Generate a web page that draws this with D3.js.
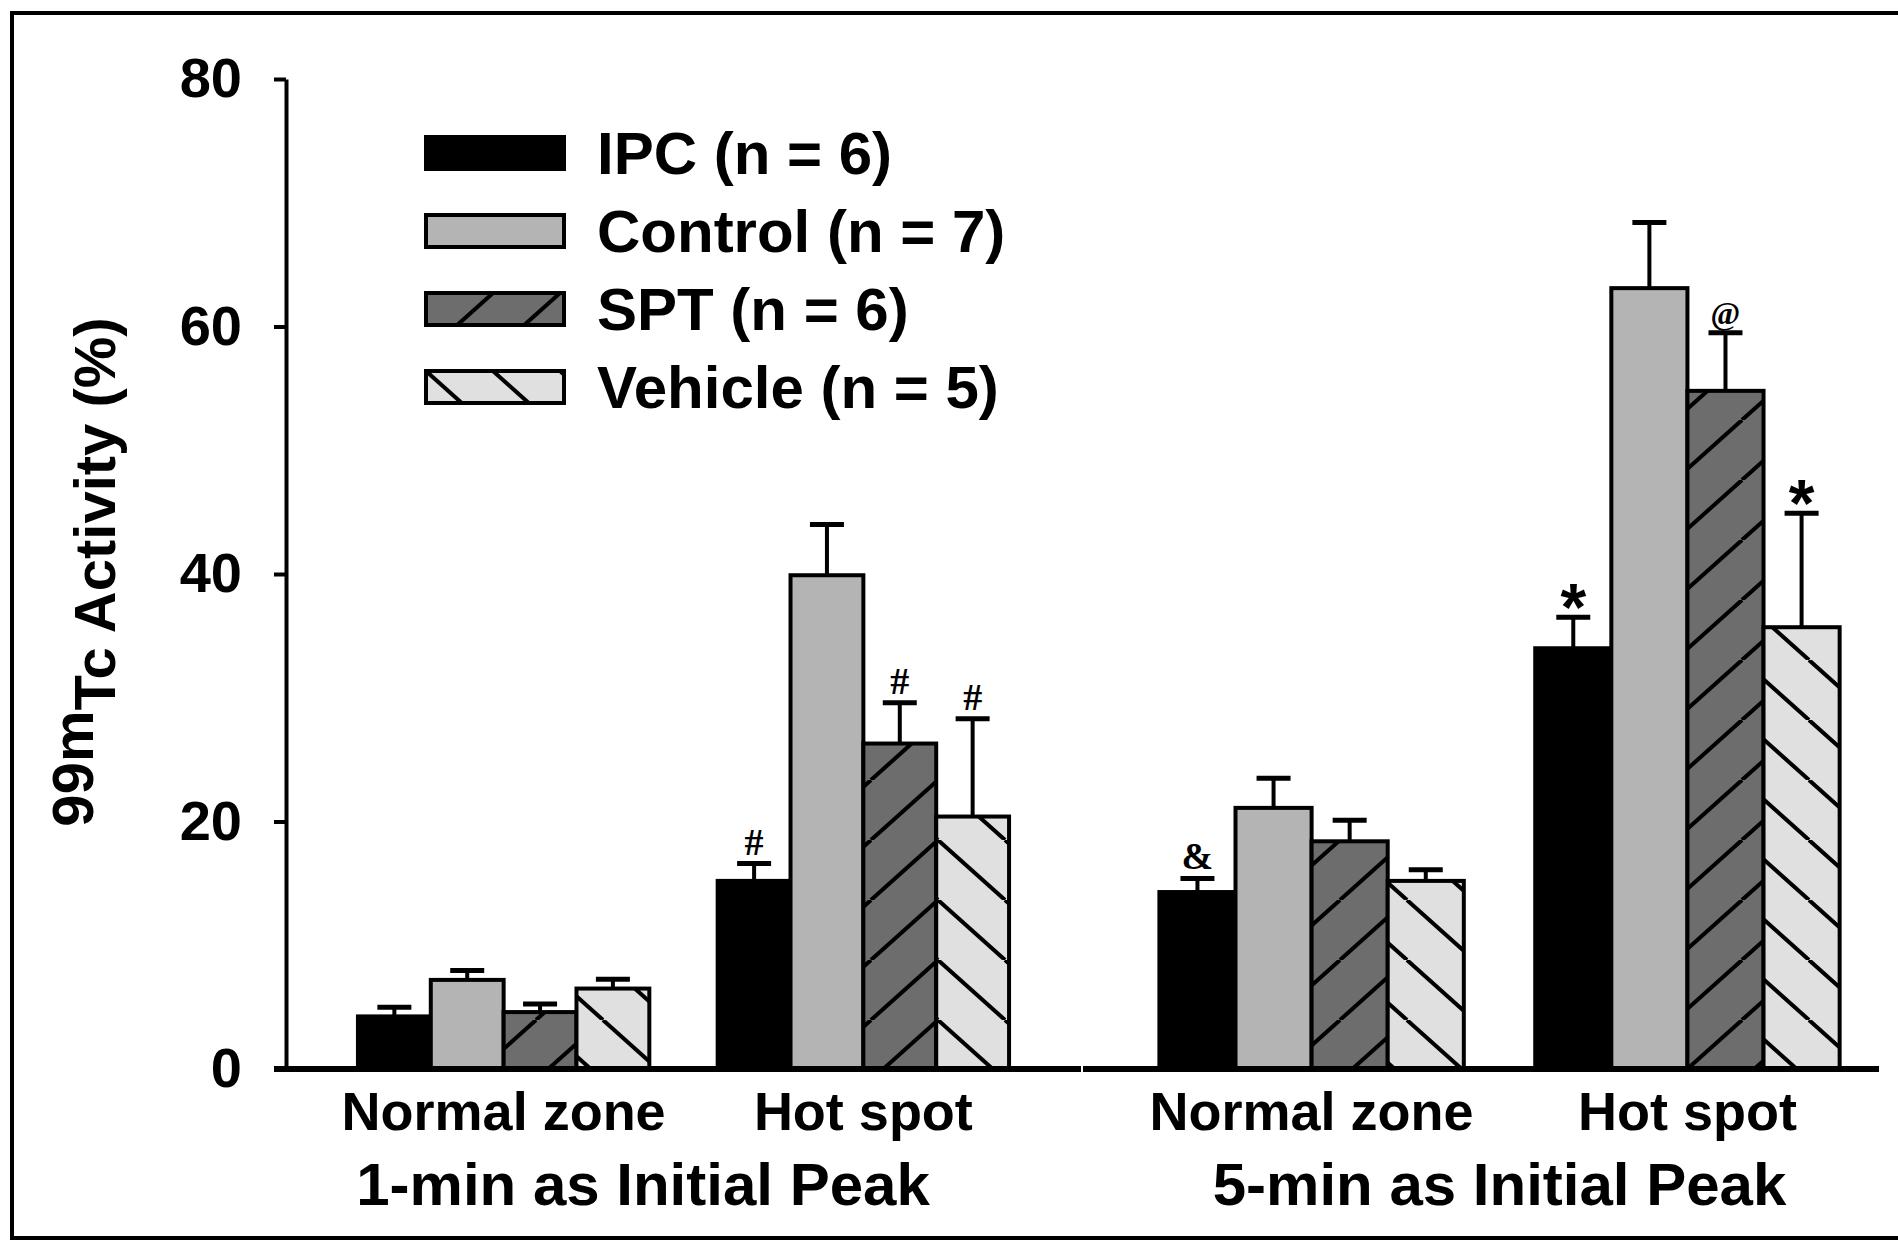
<!DOCTYPE html>
<html>
<head>
<meta charset="utf-8">
<script src="https://cdn.jsdelivr.net/npm/d3@7"></script>
<style>
  body { margin: 0; background: #fff; }
  svg { display: block; font-family: "Liberation Sans", Arial, sans-serif; font-weight: bold; }
</style>
</head>
<body>
<svg id="chart"></svg>
<script>
const WIDTH = 1898;
const HEIGHT = 1240;

// series and groups
const series = ['IPC (n = 6)', 'Control (n = 7)', 'SPT (n = 6)', 'Vehicle (n = 5)'];
const groups = ['1-Normal', '1-Hot', '5-Normal', '5-Hot'];
const groupLabels = ['Normal zone', 'Hot spot', 'Normal zone', 'Hot spot'];
const panelLabels = ['1-min as Initial Peak', '5-min as Initial Peak'];
const yTicks = [0, 20, 40, 60, 80];

// means per group, in series order
const ipc = [4.25, 15.2, 14.3, 34.0];
const control = [7.2, 39.9, 21.1, 63.1];
const spt = [4.6, 26.3, 18.4, 54.8];
const vehicle = [6.5, 20.4, 15.2, 35.7];
// SEM
const ipcErr = [0.75, 1.4, 1.1, 2.5];
const controlErr = [0.75, 4.1, 2.4, 5.3];
const sptErr = [0.65, 3.3, 1.7, 4.7];
const vehicleErr = [0.75, 7.9, 0.9, 9.2];
// significance marks
const ipcMark = ['', '#', '&', '*'];
const controlMark = ['', '', '', ''];
const sptMark = ['', '#', '', '@'];
const vehicleMark = ['', '#', '', '*'];

const fills = ['#000000', '#b4b4b4', 'url(#fwd)', 'url(#back)'];

const means = [ipc, control, spt, vehicle];
const errs = [ipcErr, controlErr, sptErr, vehicleErr];
const marks = [ipcMark, controlMark, sptMark, vehicleMark];

const rows = [];
groups.forEach((g, gi) => {
  series.forEach((s, si) => {
    rows.push({ group: g, gi, series: s, si, value: means[si][gi], err: errs[si][gi], mark: marks[si][gi] });
  });
});

const svg = d3.select('#chart').attr('width', WIDTH).attr('height', HEIGHT);

// hatch patterns
const defs = svg.append('defs');
function hatch(id, bg, forward) {
  const w = 67, h = 60;
  const p = defs.append('pattern').attr('id', id)
    .attr('patternUnits', 'userSpaceOnUse')
    .attr('width', w).attr('height', h);
  p.append('rect').attr('width', w).attr('height', h).attr('fill', bg);
  [-w, 0, w].forEach(off => {
    p.append('line')
      .attr('x1', off).attr('y1', forward ? h : 0)
      .attr('x2', off + w).attr('y2', forward ? 0 : h)
      .attr('stroke', '#000').attr('stroke-width', 4);
  });
}
hatch('fwd', '#6d6d6d', true);
hatch('back', '#e0e0e0', false);

// frame
svg.append('rect')
  .attr('x', 12).attr('y', 13).attr('width', WIDTH).attr('height', 1225)
  .attr('fill', 'none').attr('stroke', '#000').attr('stroke-width', 4);

const yScale = d3.scaleLinear().domain([0, 80]).range([1069, 79]);

// two panels, each with its own band scale
const leftX = d3.scaleBand().domain(groups.slice(0, 2)).range([286, 1081])
  .paddingInner(0.19).paddingOuter(0.2);
const rightX = d3.scaleBand().domain(groups.slice(2)).range([1083, 1879])
  .paddingInner(0.19).paddingOuter(0.154).align(0.66);
const groupX = g => (leftX.domain().includes(g) ? leftX : rightX);
const innerX = g => d3.scaleBand().domain(series).range([0, groupX(g).bandwidth()]);

// y axis
const yAxis = d3.axisLeft(yScale).tickValues(yTicks).tickSize(12).tickSizeOuter(0).tickPadding(32);
const yg = svg.append('g').attr('transform', 'translate(286,0)').call(yAxis);
yg.select('.domain').attr('stroke-width', 4);
yg.selectAll('.tick line').attr('stroke-width', 4);
yg.selectAll('.tick text')
  .attr('font-size', 56).attr('font-family', '"Liberation Sans", Arial, sans-serif')
  .attr('font-weight', 'bold').attr('fill', '#000');

// bars
const bars = svg.append('g');
rows.forEach(d => {
  const x0 = groupX(d.group)(d.group) + innerX(d.group)(d.series);
  const bw = innerX(d.group).bandwidth();
  bars.append('rect')
    .attr('x', x0).attr('y', yScale(d.value))
    .attr('width', bw).attr('height', yScale(0) - yScale(d.value))
    .attr('fill', fills[d.si]).attr('stroke', '#000').attr('stroke-width', 4);
  const cx = x0 + bw / 2;
  const top = yScale(d.value + d.err);
  bars.append('line')
    .attr('x1', cx).attr('x2', cx).attr('y1', yScale(d.value)).attr('y2', top)
    .attr('stroke', '#000').attr('stroke-width', 4);
  bars.append('line')
    .attr('x1', cx - 17).attr('x2', cx + 17).attr('y1', top).attr('y2', top)
    .attr('stroke', '#000').attr('stroke-width', 5);
  if (d.mark) {
    const star = d.mark === '*';
    bars.append('text')
      .attr('x', cx).attr('y', star ? top + 13 : top - 9)
      .attr('text-anchor', 'middle')
      .attr('font-family', star ? '"Liberation Sans", Arial, sans-serif' : '"Liberation Serif", "Times New Roman", serif')
      .attr('font-weight', 'bold')
      .attr('font-size', star ? 66 : (d.mark === '@' ? 32 : 38))
      .text(d.mark);
  }
});

// x axis, two segments with a small break
[leftX, rightX].forEach(sc => {
  const [a, b] = sc.range();
  svg.append('line')
    .attr('x1', sc === leftX ? 274 : a).attr('x2', b)
    .attr('y1', yScale(0)).attr('y2', yScale(0))
    .attr('stroke', '#000').attr('stroke-width', 6);
});

// category labels
groups.forEach((g, i) => {
  const sc = groupX(g);
  svg.append('text')
    .attr('x', sc(g) + sc.bandwidth() / 2).attr('y', 1130)
    .attr('text-anchor', 'middle').attr('font-size', 54)
    .text(groupLabels[i]);
});
const panelCenters = [643, (rightX(groups[2]) + rightX(groups[3]) + rightX.bandwidth()) / 2];
panelLabels.forEach((t, i) => {
  svg.append('text')
    .attr('x', panelCenters[i]).attr('y', 1205)
    .attr('text-anchor', 'middle').attr('font-size', 60)
    .text(t);
});

// y label
const yl = svg.append('text')
  .attr('transform', 'translate(115,572) rotate(-90)')
  .attr('text-anchor', 'middle').attr('font-size', 58);
yl.append('tspan').attr('dy', -22).text('99m');
yl.append('tspan').attr('dy', 22).text('Tc Activity (%)');

// legend
const legend = svg.append('g').attr('transform', 'translate(426,137)');
series.forEach((s, i) => {
  const row = legend.append('g').attr('transform', `translate(0, ${i * 78})`);
  row.append('rect').attr('width', 138).attr('height', 32)
    .attr('fill', fills[i]).attr('stroke', '#000').attr('stroke-width', 4);
  row.append('text').attr('x', 171).attr('y', 37).attr('font-size', 60).text(s);
});
</script>
</body>
</html>
